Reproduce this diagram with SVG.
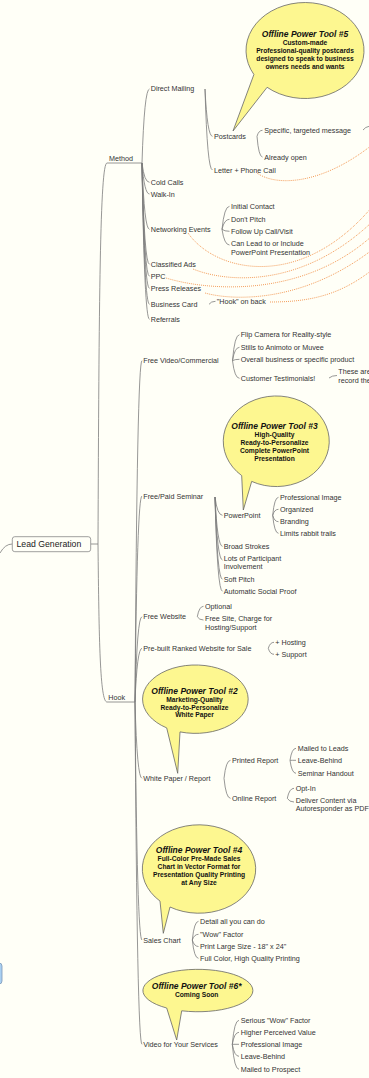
<svg xmlns="http://www.w3.org/2000/svg" width="369" height="1078" viewBox="0 0 369 1078">
<style>
.t{font-family:"Liberation Sans",Arial,sans-serif;font-size:7.2px;fill:#333}
.lg{font-size:8.7px;fill:#222}
.bt{font-family:"Liberation Sans",Arial,sans-serif;font-weight:bold;font-style:italic;font-size:8.5px;fill:#111;text-anchor:middle}
.bb{font-family:"Liberation Sans",Arial,sans-serif;font-weight:bold;font-size:6.7px;fill:#111;text-anchor:middle}
.c{fill:none;stroke:#7c7c7c;stroke-width:0.8}
.r{fill:none;stroke:#f0883a;stroke-width:0.9;stroke-dasharray:0.9 1.1}
.bub{fill:#fdf790;stroke:#666;stroke-width:0.8}
</style>
<rect width="369" height="1078" fill="#fffff7"/>
<g id="connectors">
<path class="c" d="M0 553Q5 544 12.3 544"/>
<path class="c" d="M90.7 544H98"/>
<path class="c" d="M98 544C99 300 100 163 107 163H142"/>
<path class="c" d="M98 544C99 640 100 702 107 702H135"/>
<path class="c" d="M142 163Q144.3 89 149.5 89M142 163Q144.3 182.3 149.5 182.3M142 163Q144.3 194 149.5 194M142 163Q144.3 229.3 149.5 229.3M142 163Q144.3 264.3 149.5 264.3M142 163Q144.3 276.3 149.5 276.3M142 163Q144.3 288.3 149.5 288.3M142 163Q144.3 304.3 149.5 304.3M142 163Q144.3 319.3 149.5 319.3"/>
<path class="c" d="M205 89Q207.3 136.3 212.5 136.3M205 89Q207.3 170 212.5 170"/>
<path class="c" d="M257 136.3Q258.7 130.3 262.5 130.3M257 136.3Q258.7 157 262.5 157"/>
<path class="c" d="M363 130Q365 127 370 126"/>
<path class="c" d="M222 229.3Q224.3 206.3 229.5 206.3M222 229.3Q224.3 219.3 229.5 219.3M222 229.3Q224.3 231.3 229.5 231.3M222 229.3Q224.3 245 229.5 245"/>
<path class="c" d="M209 304.3Q211 301.3 215.5 301.3"/>
<path class="c" d="M135 702Q137.1 360.7 142 360.7M135 702Q137.1 496 142 496M135 702Q137.1 616.7 142 616.7M135 702Q137.1 648.3 142 648.3M135 702Q137.1 778.3 142 778.3M135 702Q137.1 940 142 940M135 702Q137.1 1044.3 142 1044.3"/>
<path class="c" d="M232.5 360.7Q234.6 334.7 239.5 334.7M232.5 360.7Q234.6 347.3 239.5 347.3M232.5 360.7Q234.6 359.3 239.5 359.3M232.5 360.7Q234.6 378.3 239.5 378.3"/>
<path class="c" d="M329 378Q332 375.5 337 375.5"/>
<path class="c" d="M215 497Q217.3 515.3 222.5 515.3M215 497Q217.3 546.3 222.5 546.3M215 497Q217.3 560 222.5 560M215 497Q217.3 579.3 222.5 579.3M215 497Q217.3 591.3 222.5 591.3"/>
<path class="c" d="M272.7 515.3Q274.4 497.3 278.5 497.3M272.7 515.3Q274.4 509.3 278.5 509.3M272.7 515.3Q274.4 521.7 278.5 521.7M272.7 515.3Q274.4 533.3 278.5 533.3"/>
<path class="c" d="M197.3 616.7Q199.2 606.3 203.5 606.3M197.3 616.7Q199.2 620 203.5 620"/>
<path class="c" d="M268.3 648.3Q270 642.3 274 642.3M268.3 648.3Q270 654.3 274 654.3"/>
<path class="c" d="M224 778.3Q226 760.3 230.5 760.3M224 778.3Q226 798.3 230.5 798.3"/>
<path class="c" d="M290 760.3Q291.8 748.3 296 748.3M290 760.3Q291.8 760.3 296 760.3M290 760.3Q291.8 773.3 296 773.3"/>
<path class="c" d="M287.3 798.3Q289.3 788.3 294 788.3M287.3 798.3Q289.3 802 294 802"/>
<path class="c" d="M192.3 940Q194.2 921.3 198.5 921.3M192.3 940Q194.2 934.3 198.5 934.3M192.3 940Q194.2 946.5 198.5 946.5M192.3 940Q194.2 958.3 198.5 958.3"/>
<path class="c" d="M232.3 1044.3Q234.3 1020.3 239 1020.3M232.3 1044.3Q234.3 1032.3 239 1032.3M232.3 1044.3Q234.3 1044.3 239 1044.3M232.3 1044.3Q234.3 1056.3 239 1056.3M232.3 1044.3Q234.3 1069.3 239 1069.3"/>
<path class="r" d="M257 173C275 186 320 186 372 145"/>
<path class="r" d="M188 233C215 272 300 292 372 207"/>
<path class="r" d="M193 269C225 282 300 290 372 222"/>
<path class="r" d="M166 278C205 290 300 300 372 236"/>
<path class="r" d="M205 293C230 300 300 305 372 250"/>
<path class="r" d="M270 302C310 302 340 295 372 270"/>
</g>
<g id="offscreen-node"><rect x="-20" y="963" width="22" height="21" rx="3" fill="#a9d0f2" stroke="#7c98b8" stroke-width="0.8"/></g>
<g id="lead-generation"><rect x="12.3" y="536.7" width="78.4" height="15" rx="2.5" fill="#fffff7" stroke="#888" stroke-width="0.8"/><text class="t lg" x="16.5" y="547.2">Lead Generation</text></g>
<g id="method"><text class="t" x="109" y="160.5">Method</text></g>
<g id="hook"><text class="t" x="108.3" y="699.8">Hook</text></g>
<g id="direct-mailing"><text class="t" x="150.7" y="91.2">Direct Mailing</text></g>
<g id="postcards"><text class="t" x="214" y="138.8">Postcards</text></g>
<g id="letter-phone"><text class="t" x="214" y="172.5">Letter + Phone Call</text></g>
<g id="specific"><text class="t" x="264.3" y="132.8">Specific, targeted message</text></g>
<g id="already-open"><text class="t" x="264.3" y="159.5">Already open</text></g>
<g id="cold-calls"><text class="t" x="150.7" y="184.8">Cold Calls</text></g>
<g id="walk-in"><text class="t" x="150.7" y="196.5">Walk-In</text></g>
<g id="networking"><text class="t" x="150.7" y="231.8">Networking Events</text></g>
<g id="initial-contact"><text class="t" x="231" y="208.8">Initial Contact</text></g>
<g id="dont-pitch"><text class="t" x="231" y="221.8">Don't Pitch</text></g>
<g id="follow-up"><text class="t" x="231" y="233.8">Follow Up Call/Visit</text></g>
<g id="can-lead"><text class="t" x="231" y="245.8">Can Lead to or Include</text><text class="t" x="231" y="254.8">PowerPoint Presentation</text></g>
<g id="classified"><text class="t" x="150.7" y="266.8">Classified Ads</text></g>
<g id="ppc"><text class="t" x="150.7" y="278.8">PPC</text></g>
<g id="press"><text class="t" x="150.7" y="290.8">Press Releases</text></g>
<g id="business-card"><text class="t" x="150.7" y="306.8">Business Card</text></g>
<g id="hook-on-back"><text class="t" x="216.7" y="303.8">"Hook" on back</text></g>
<g id="referrals"><text class="t" x="150.7" y="321.8">Referrals</text></g>
<g id="free-video"><text class="t" x="143.3" y="363.2">Free Video/Commercial</text></g>
<g id="flip"><text class="t" x="240.7" y="337.2">Flip Camera for Reality-style</text></g>
<g id="stills"><text class="t" x="240.7" y="349.8">Stills to Animoto or Muvee</text></g>
<g id="overall"><text class="t" x="240.7" y="361.8">Overall business or specific product</text></g>
<g id="testimonials"><text class="t" x="240.7" y="380.8">Customer Testimonials!</text></g>
<g id="these-are"><text class="t" x="338.3" y="373.8">These are</text><text class="t" x="338.3" y="383.2">record the</text></g>
<g id="seminar"><text class="t" x="143.3" y="498.5">Free/Paid Seminar</text></g>
<g id="powerpoint"><text class="t" x="223.7" y="517.8">PowerPoint</text></g>
<g id="pro-image-1"><text class="t" x="280" y="499.8">Professional Image</text></g>
<g id="organized"><text class="t" x="280" y="511.8">Organized</text></g>
<g id="branding"><text class="t" x="280" y="524.2">Branding</text></g>
<g id="rabbit"><text class="t" x="280" y="535.8">Limits rabbit trails</text></g>
<g id="broad"><text class="t" x="223.7" y="548.8">Broad Strokes</text></g>
<g id="lots"><text class="t" x="223.7" y="561.2">Lots of Participant</text><text class="t" x="223.7" y="569.2">Involvement</text></g>
<g id="soft"><text class="t" x="223.7" y="581.8">Soft Pitch</text></g>
<g id="social"><text class="t" x="223.7" y="593.8">Automatic Social Proof</text></g>
<g id="free-website"><text class="t" x="143.3" y="619.2">Free Website</text></g>
<g id="optional"><text class="t" x="205" y="608.8">Optional</text></g>
<g id="free-site"><text class="t" x="205" y="620.8">Free Site, Charge for</text><text class="t" x="205" y="629.5">Hosting/Support</text></g>
<g id="prebuilt"><text class="t" x="143.3" y="650.8">Pre-built Ranked Website for Sale</text></g>
<g id="hosting"><text class="t" x="275.3" y="644.8">+ Hosting</text></g>
<g id="support"><text class="t" x="275.3" y="656.8">+ Support</text></g>
<g id="white-paper"><text class="t" x="143.3" y="780.8">White Paper / Report</text></g>
<g id="printed"><text class="t" x="232" y="762.8">Printed Report</text></g>
<g id="online"><text class="t" x="232" y="800.8">Online Report</text></g>
<g id="mailed-leads"><text class="t" x="297.7" y="750.8">Mailed to Leads</text></g>
<g id="leave-behind-1"><text class="t" x="297.7" y="762.8">Leave-Behind</text></g>
<g id="seminar-handout"><text class="t" x="297.7" y="775.8">Seminar Handout</text></g>
<g id="opt-in"><text class="t" x="295.7" y="790.8">Opt-In</text></g>
<g id="deliver"><text class="t" x="295.7" y="802.8">Deliver Content via</text><text class="t" x="295.7" y="811.2">Autoresponder as PDF</text></g>
<g id="sales-chart"><text class="t" x="143.3" y="942.5">Sales Chart</text></g>
<g id="detail"><text class="t" x="200" y="923.8">Detail all you can do</text></g>
<g id="wow"><text class="t" x="200" y="936.8">"Wow" Factor</text></g>
<g id="print-large"><text class="t" x="200" y="949">Print Large Size - 18" x 24"</text></g>
<g id="full-color"><text class="t" x="200" y="960.8">Full Color, High Quality Printing</text></g>
<g id="video-services"><text class="t" x="143.3" y="1046.8">Video for Your Services</text></g>
<g id="serious"><text class="t" x="240.7" y="1022.8">Serious "Wow" Factor</text></g>
<g id="higher"><text class="t" x="240.7" y="1034.8">Higher Perceived Value</text></g>
<g id="pro-image-2"><text class="t" x="240.7" y="1046.8">Professional Image</text></g>
<g id="leave-behind-2"><text class="t" x="240.7" y="1058.8">Leave-Behind</text></g>
<g id="mailed-prospect"><text class="t" x="240.7" y="1071.8">Mailed to Prospect</text></g>
<g id="tool-5"><path class="bub" d="M233 131L267.1 87.3A59 48 0 1 0 253.9 74.5Z"/>
<text class="bt" x="305" y="37">Offline Power Tool #5</text>
<text class="bb" x="305" y="45">Custom-made</text>
<text class="bb" x="305" y="53">Professional-quality postcards</text>
<text class="bb" x="305" y="61">designed to speak to business</text>
<text class="bb" x="305" y="68.7">owners needs and wants</text></g>
<g id="tool-3"><path class="bub" d="M243.3 510L251.7 481.4A53 45.3 0 1 0 241.7 475.6Z"/>
<text class="bt" x="274.5" y="429">Offline Power Tool #3</text>
<text class="bb" x="274.5" y="437">High-Quality</text>
<text class="bb" x="274.5" y="445">Ready-to-Personalize</text>
<text class="bb" x="274.5" y="453">Complete PowerPoint</text>
<text class="bb" x="274.5" y="461">Presentation</text></g>
<g id="tool-2"><path class="bub" d="M177.7 773.3L180 731.9A52.8 34.2 0 1 0 166.7 727.9Z"/>
<text class="bt" x="194.5" y="694.3">Offline Power Tool #2</text>
<text class="bb" x="194.5" y="702">Marketing-Quality</text>
<text class="bb" x="194.5" y="710">Ready-to-Personalize</text>
<text class="bb" x="194.5" y="717">White Paper</text></g>
<g id="tool-4"><path class="bub" d="M163.3 933.3L170 907A56.7 44.2 0 1 0 160 901.1Z"/>
<text class="bt" x="199" y="853">Offline Power Tool #4</text>
<text class="bb" x="199" y="861">Full-Color Pre-Made Sales</text>
<text class="bb" x="199" y="869">Chart in Vector Format for</text>
<text class="bb" x="199" y="876.7">Presentation Quality Printing</text>
<text class="bb" x="199" y="884.7">at Any Size</text></g>
<g id="tool-6"><path class="bub" d="M176.7 1040L181.7 1010.8A55 21.2 0 1 0 166.7 1008Z"/>
<text class="bt" x="196.7" y="989">Offline Power Tool #6*</text>
<text class="bb" x="196.7" y="997">Coming Soon</text></g>
</svg>
